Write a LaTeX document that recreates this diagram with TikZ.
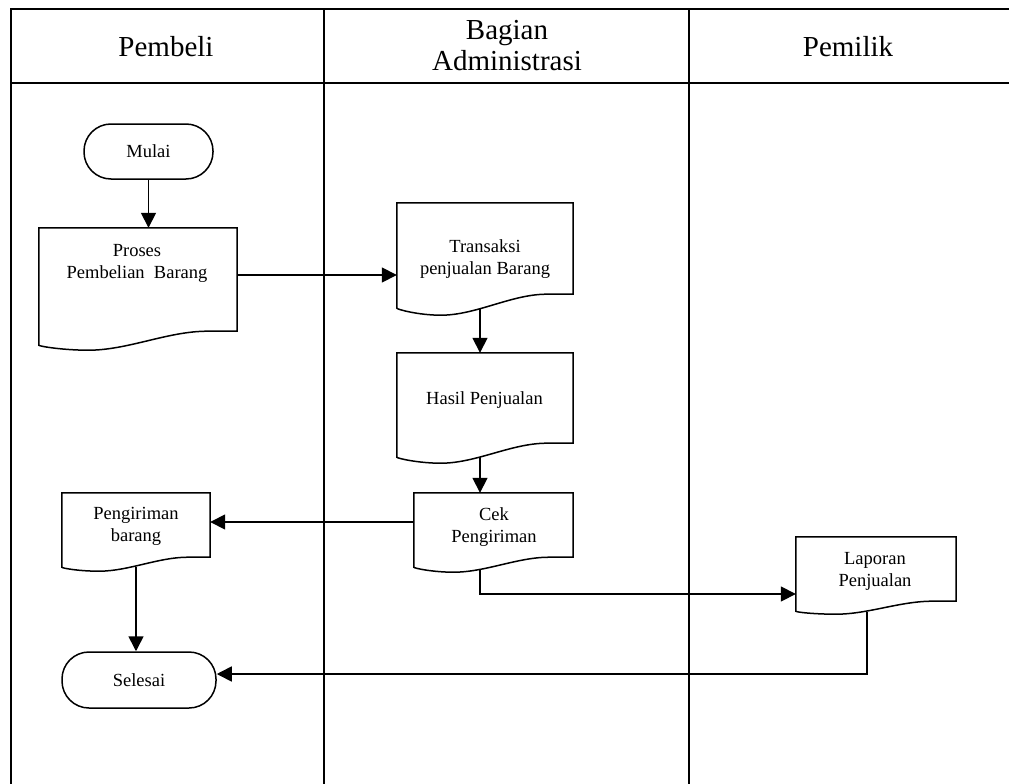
\documentclass[tikz,border=0pt]{standalone}
\usepackage{fontspec}
\setmainfont{Liberation Serif}
\usetikzlibrary{arrows.meta,calc}

% Outline of a document symbol: flat top, straight sides, wavy bottom.
% #1 node name, #2 drop of the left corner, #3 depth of the wave's trough
\newcommand\docoutline[3]{%
  \draw[shapeline] (#1.north west) -- (#1.north east) -- (#1.south east)
    -- ($(#1.south west)!0.85!(#1.south east)$)
    .. controls ($(#1.south west)!0.65!(#1.south east)$)
            and ($(#1.south west)!0.45!(#1.south east)+(0,#3)$)
    .. ($(#1.south west)!0.25!(#1.south east)+(0,#3)$)
    .. controls ($(#1.south west)!0.12!(#1.south east)+(0,#3)$)
            and ($(#1.south west)+(0,#2+1)$)
    .. ($(#1.south west)+(0,#2)$) -- cycle;}

\begin{document}
\begin{tikzpicture}[x=1pt,y=-1pt,
  gridline/.style={line width=2.2pt},
  shapeline/.style={line width=1.5pt, line join=miter},
  arr/.style={line width=1.6pt, -{Triangle[length=15pt,width=15pt]}},
  terminal/.style={draw, line width=1.5pt, rounded corners=27pt,
    inner sep=0pt, font=\fontsize{18.5}{22}\selectfont},
  docbox/.style={rectangle, inner sep=0pt},
  doctext/.style={align=center, inner sep=0pt, font=\fontsize{18.5}{22}\selectfont},
  header/.style={align=center, inner sep=0pt, font=\fontsize{29}{31}\selectfont}]

\useasboundingbox (0,0) rectangle (1009,784);

% swimlane table
\draw[gridline] (1012,9) -- (11,9) -- (11,790);
\draw[gridline] (11,83) -- (1012,83);
\draw[gridline] (324,9) -- (324,790);
\draw[gridline] (689,9) -- (689,790);

\node[header] (h1) at (166,47) {Pembeli};
\node[header] (h2) at (507,46) {Bagian\\Administrasi};
\node[header] (h3) at (848,47) {Pemilik};

% terminals
\node[terminal, minimum width=129pt, minimum height=55pt] (mulai) at (148.5,151.5) {Mulai};
\node[terminal, minimum width=154pt, minimum height=56pt] (selesai) at (139,680) {Selesai};

% documents
\node[docbox, minimum width=198pt, minimum height=103pt] (proses) at (138,279.5) {};
\node[doctext] (proses-t) at (137,263) {Proses\\Pembelian~~Barang};
\docoutline{proses}{14}{19}

\node[docbox, minimum width=176pt, minimum height=91pt] (trans) at (485,248.5) {};
\node[doctext] (trans-t) at (485,259) {Transaksi\\penjualan Barang};
\docoutline{trans}{14}{21}

\node[docbox, minimum width=176pt, minimum height=90pt] (hasil) at (485,398) {};
\node[doctext] (hasil-t) at (484.5,400) {Hasil Penjualan};
\docoutline{hasil}{14}{20}

\node[docbox, minimum width=159pt, minimum height=64pt] (cek) at (493.5,525) {};
\node[doctext] (cek-t) at (494,527) {Cek\\Pengiriman};
\docoutline{cek}{10}{15}

\node[docbox, minimum width=148pt, minimum height=64pt] (kirim) at (136,525) {};
\node[doctext] (kirim-t) at (136,526) {Pengiriman\\barang};
\docoutline{kirim}{10}{14}

\node[docbox, minimum width=160pt, minimum height=64pt] (laporan) at (876,569) {};
\node[doctext] (laporan-t) at (875,571) {Laporan\\Penjualan};
\docoutline{laporan}{10}{13}

% connectors
\draw[arr] (mulai.south) -- (mulai.south |- proses.north);
\draw[arr] (proses.east |- 0,275) -- (trans.west |- 0,275);
\draw[arr] ($(trans.south)+(-5,14)$) coordinate (tb) -- (tb |- hasil.north);
\draw[arr] ($(hasil.south)+(-5,14)$) coordinate (hb) -- (hb |- cek.north);
\draw[arr] (cek.west |- 0,522) -- (kirim.east |- 0,522);
\draw[arr] ($(cek.south)+(-13.5,13)$) |- (laporan.west |- 0,594);
\draw[arr] ($(laporan.south)+(-9,11)$) |- ([yshift=6pt]selesai.east);
\draw[arr] ($(kirim.south)+(0,10)$) coordinate (kb) -- (kb |- selesai.north);

\end{tikzpicture}
\end{document}
